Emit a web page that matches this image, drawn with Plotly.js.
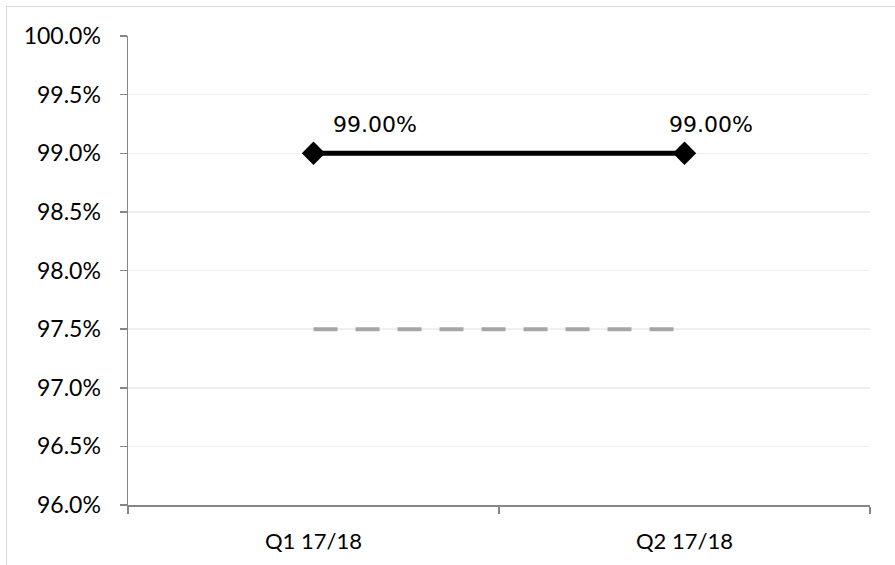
<!DOCTYPE html>
<html>
<head>
<meta charset="utf-8">
<script src="https://cdn.plot.ly/plotly-3.0.1.min.js"></script>
<style>
  html, body { margin: 0; padding: 0; background: #fff; overflow: hidden; }
  #frame { position: absolute; left: 6px; top: 6px; width: 895px; height: 565px; border: 1px solid #d9d9d9; box-sizing: border-box; }
  #chart { position: absolute; left: 0; top: 0; width: 895px; height: 565px; }
</style>
</head>
<body>
<div id="frame"></div>
<div id="chart"></div>
<script>
const categories = ['Q1 17/18', 'Q2 17/18'];
const actualValues = [0.99, 0.99];
const targetValues = [0.975, 0.975];
const labelTexts = ['99.00%', '99.00%'];
const yTicks = [0.96, 0.965, 0.97, 0.975, 0.98, 0.985, 0.99, 0.995, 1.0];

const labelShift = [61, 26];

const traces = [
  {
    x: categories, y: targetValues, type: 'scatter', mode: 'lines',
    line: { color: '#a6a6a6', width: 4, dash: '24px,18px' },
    hoverinfo: 'skip', showlegend: false
  },
  {
    x: categories, y: actualValues, type: 'scatter', mode: 'lines+markers',
    line: { color: '#000000', width: 5 },
    marker: { symbol: 'diamond', size: 18, color: '#000000' },
    hoverinfo: 'skip', showlegend: false
  }
];

const annotations = categories.map((c, i) => ({
  x: c, y: actualValues[i], xref: 'x', yref: 'y',
  text: labelTexts[i], showarrow: false,
  xshift: labelShift[i], yshift: 29,
  font: { family: 'DejaVu Sans', size: 22, color: '#000' }
}));

const layout = {
  width: 895, height: 565,
  margin: { l: 128, r: 25, t: 36, b: 60 },
  paper_bgcolor: 'rgba(0,0,0,0)', plot_bgcolor: '#fff',
  showlegend: false,
  xaxis: {
    type: 'category', range: [-0.5, 1.5], tickson: 'boundaries',
    ticks: 'outside', ticklen: 7, tickcolor: '#868686', tickwidth: 1.5,
    showline: true, linecolor: '#868686', linewidth: 1.5,
    showgrid: false, zeroline: false, ticklabelstandoff: 16,
    tickfont: { family: 'Lato', size: 22, color: '#000' },
    fixedrange: true
  },
  yaxis: {
    range: [0.96, 1.0], tickvals: yTicks, tickformat: '.1%',
    ticks: 'outside', ticklen: 7, tickcolor: '#868686', tickwidth: 1.5,
    showline: true, linecolor: '#868686', linewidth: 1.5,
    showgrid: true, gridcolor: '#efefef', gridwidth: 1.5,
    zeroline: false, ticklabelstandoff: 14,
    tickfont: { family: 'Lato', size: 23, color: '#000' },
    fixedrange: true
  },
  annotations: annotations
};

Plotly.newPlot('chart', traces, layout, { displayModeBar: false, staticPlot: true });
</script>
</body>
</html>
